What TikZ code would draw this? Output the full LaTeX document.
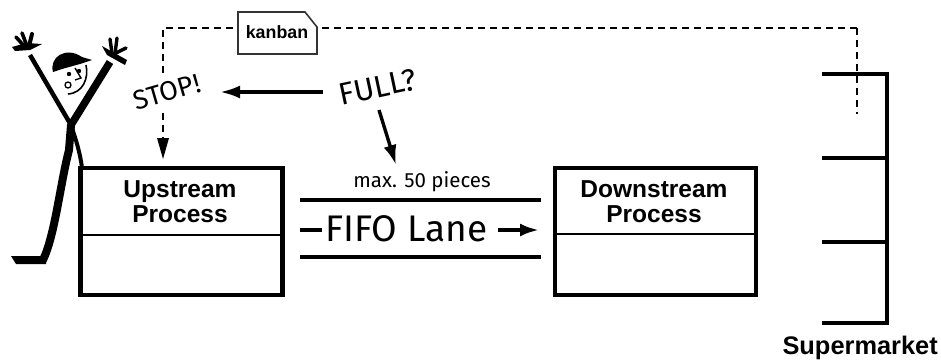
\documentclass[tikz,border=0pt]{standalone}
\usepackage{fontspec}
\setmainfont{Liberation Sans}
\newfontfamily\hand{Fira Sans}
\usetikzlibrary{arrows.meta,calc}
\tikzset{
  x=1pt,y=-1pt,
  procbox/.style={draw=black,line width=4.4pt,outer sep=0pt,minimum width=202pt,minimum height=127pt,inner sep=0pt,anchor=north west},
  divider/.style={line width=2pt},
  thick bar/.style={line width=4pt},
  shelf/.style={line width=4pt},
  dash link/.style={line width=2pt,dash pattern=on 7pt off 5pt},
  bold label/.style={font=\fontsize{24.5}{25}\selectfont\bfseries,align=center,inner sep=0pt},
  hand label/.style={font=\hand,inner sep=0pt},
  big arrow/.style={line width=3.4pt,-{Latex[length=20pt,width=13pt]}},
  limb/.style={line cap=round,line join=round},
}
\begin{document}
\begin{tikzpicture}
\useasboundingbox (0,0) rectangle (941,360);
\fill[white] (0,0) rectangle (941,360);
% boxes
\node[procbox] (up) at (80.5,168) {};
\node[procbox,minimum width=201pt] (down) at (555,168) {};
\coordinate (upL) at ($(up.north west)!0.53!(up.south west)$);
\coordinate (upR) at ($(up.north east)!0.53!(up.south east)$);
\coordinate (downL) at ($(down.north west)!0.52!(down.south west)$);
\coordinate (downR) at ($(down.north east)!0.52!(down.south east)$);
\draw[divider] (upL) -- (upR);
\draw[divider] (downL) -- (downR);
\node[bold label] (uptext) at (180,202) {Upstream\\Process};
\node[bold label] (downtext) at (654,202) {Downstream\\Process};
% FIFO lane
\coordinate (l1a) at (300,200); \coordinate (l1b) at (541,200);
\coordinate (l2a) at (300,257); \coordinate (l2b) at (541,257);
\draw[thick bar] (l1a) -- (l1b);
\draw[thick bar] (l2a) -- (l2b);
\coordinate (d1) at (300,230); \coordinate (d2) at (322,230);
\draw[thick bar] (d1) -- (d2);
\node[hand label,font=\hand\fontsize{37}{37}\selectfont,anchor=west] (fifo) at (325,229) {FIFO Lane};
\coordinate (fa) at (498,230); \coordinate (fb) at (539,230);
\draw[line width=3.6pt,-{Latex[length=19pt,width=13pt]}] (fa) -- (fb);
\node[hand label,font=\hand\fontsize{20.5}{20}\selectfont] (max) at (422,182) {max. 50 pieces};
% hand texts
\node[hand label,font=\hand\fontsize{31}{31}\selectfont,rotate=12] (full) at (378,87) {FULL?};
\node[hand label,font=\hand\fontsize{27}{27}\selectfont,rotate=16] (stop) at (167,92) {STOP!};
\coordinate (fs) at (323,92); \coordinate (fe) at (220,92);
\draw[big arrow] (fs) -- (fe);
\coordinate (ds) at (379,110); \coordinate (de) at (396,165);
\draw[big arrow] (ds) -- (de);
% kanban path
\coordinate (kl) at (163,28); \coordinate (sc) at (857,28);
\coordinate (st) at (857,114);
\coordinate (ka) at (163,113); \coordinate (kb) at (163,77);
\coordinate (kd) at (163,140);
\draw[dash link] (sc) -- (kl) -- (kb);
\draw[dash link] (ka) -- (kd);
\draw[dash link] (sc) -- (st);
\fill (157,138) -- (169,138) -- (163,159) -- cycle;
\fill[white] (238,12) -- (305,12) -- (317,27) -- (317,54) -- (238,54) -- cycle;
\draw[black!80,line width=1.6pt] (238,12) -- (305,12) -- (317,27) -- (317,54) -- (238,54) -- cycle;
\node[font=\fontsize{17.8}{18}\selectfont\bfseries,inner sep=0pt] (kan) at (277,32) {kanban};
% supermarket
\coordinate (s1) at (822,74); \coordinate (s1r) at (887,74);
\coordinate (s2) at (822,158); \coordinate (s2r) at (887,158);
\coordinate (s3) at (822,242); \coordinate (s3r) at (887,242);
\coordinate (s4) at (822,323); \coordinate (s4r) at (887,323);
\draw[shelf,line join=miter] (s1) -- (s1r) -- (s4r) -- (s4);
\draw[shelf] (s2) -- (s2r);
\draw[shelf] (s3) -- (s3r);
\node[bold label,font=\fontsize{25.4}{26}\selectfont\bfseries,anchor=east] (sm) at (938,348) {Supermarket};
% stick figure
\draw[line width=4.5pt] (30,55) -- (71,125);
\draw[line width=7.5pt] (110,62) -- (71,125);
\draw[limb,line width=8pt] (71,125) -- (69,150) .. controls (60,185) and (55,235) .. (43,260);
\draw[line width=4pt] (71,125) .. controls (76,140) and (80,152) .. (82,168);
\fill (11,256) -- (46,256) -- (46,264) -- (16,264) -- cycle;
% hands
\fill (12,47) -- (26,43) -- (42,44) -- (30,50) -- (15,51) -- cycle;
\draw[limb,line width=3.6pt] (25,47) -- (16,37);
\draw[limb,line width=3.6pt] (27,46) -- (22,33);
\draw[limb,line width=4pt] (29,46) -- (32,34);
\fill (102,46) -- (127,60) -- (125,65) -- (107,55) -- cycle;
\draw[limb,line width=3.4pt] (112,53) -- (110,39);
\draw[limb,line width=3.4pt] (115,54) -- (117,38);
\draw[limb,line width=3.4pt] (114,54) -- (126,48);
% head
\fill (53,72) .. controls (49,57) and (66,46) .. (82,57) -- (92,60) -- (80,64) -- (62,69) -- cycle;
\draw[line width=1.6pt] (86,65) .. controls (89,78) and (83,93) .. (68,94);
\fill (69,74) circle (2.2pt);
\fill (79,71) circle (2.2pt);
\draw[line width=1.4pt] (75,68) -- (81,78) -- (75,80);
\draw[line width=1.3pt] (68,85) circle (3pt);
\end{tikzpicture}
\end{document}
